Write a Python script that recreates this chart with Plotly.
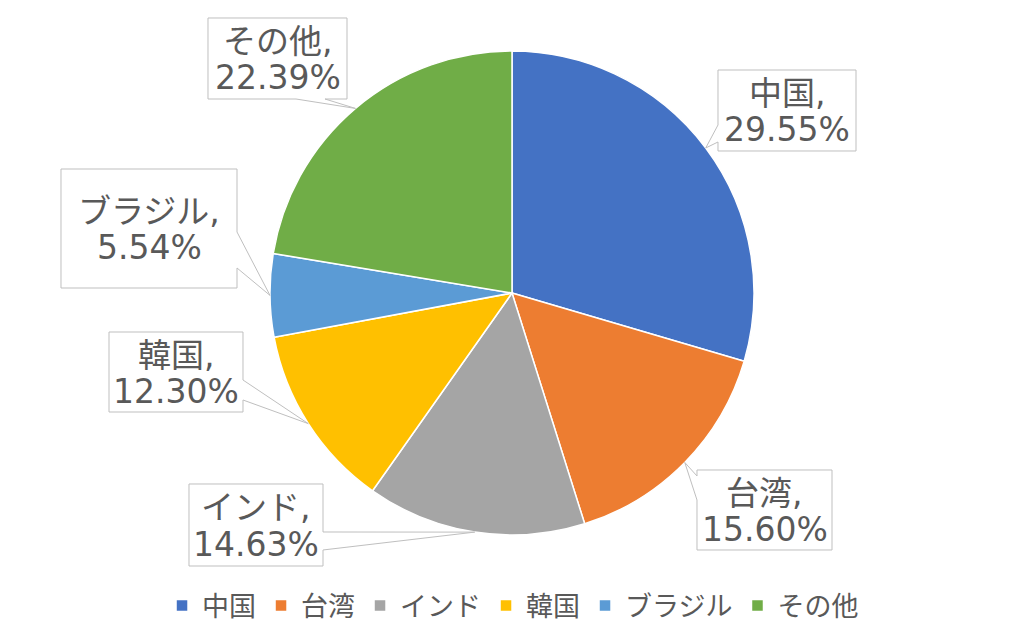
import math
import plotly.graph_objects as go

# ---- data ----
categories = ["中国", "台湾", "インド", "韓国", "ブラジル", "その他"]
shares = [29.55, 15.60, 14.63, 12.30, 5.54, 22.39]
colors = ["#4472C4", "#ED7D31", "#A5A5A5", "#FFC000", "#5B9BD5", "#70AD47"]

# ---- layout constants (pixels) ----
W, H = 1024, 632
CX, CY, R = 512, 293, 242
FONT = "DejaVu Sans, Noto Sans CJK JP, sans-serif"
TXT = "#595959"

# callout boxes: (x0, y0, x1, y1, side, base_a, base_b)
callouts = [
    (718, 70, 856, 151, "left", 125, 142),
    (697, 470, 832, 550, "left", 476, 500),
    (189, 484, 323, 566, "right", 532, 550),
    (109, 332, 243, 412, "right", 380, 400),
    (61, 169, 237, 288, "right", 232, 268),
    (208, 18, 347, 99, "bottom", 296, 325),
]


def px(x):
    return x / W


def py(y):
    return 1 - y / H


fig = go.Figure(
    go.Pie(
        labels=categories,
        values=shares,
        sort=False,
        direction="clockwise",
        rotation=0,
        marker=dict(colors=colors, line=dict(color="white", width=1.5)),
        textinfo="none",
        hoverinfo="label+percent",
        domain=dict(x=[px(CX - R), px(CX + R)], y=[py(CY + R), py(CY - R)]),
    )
)

total = sum(shares)
cum = 0.0
shapes = []
annotations = []
for cat, v, (x0, y0, x1, y1, side, ba, bb) in zip(categories, shares, callouts):
    mid = (cum + v / 2) / total
    cum += v
    ang = 2 * math.pi * mid
    tx = CX + R * math.sin(ang)
    ty = CY - R * math.cos(ang)
    if side == "left":
        pts = [(x0, y0), (x1, y0), (x1, y1), (x0, y1), (x0, bb), (tx, ty), (x0, ba)]
    elif side == "right":
        pts = [(x0, y0), (x1, y0), (x1, ba), (tx, ty), (x1, bb), (x1, y1), (x0, y1)]
    else:
        pts = [(x0, y0), (x1, y0), (x1, y1), (bb, y1), (tx, ty), (ba, y1), (x0, y1)]
    path = "M " + " L ".join(f"{px(a):.5f},{py(b):.5f}" for a, b in pts) + " Z"
    shapes.append(
        dict(
            type="path",
            xref="paper",
            yref="paper",
            path=path,
            fillcolor="white",
            line=dict(color="#BFBFBF", width=1),
            layer="above",
        )
    )
    cxb = (x0 + x1) / 2
    cyb = (y0 + y1) / 2
    for text, dy in ((f"{cat},", -17), (f"{v:.2f}%", 19)):
        annotations.append(
            dict(
                xref="paper",
                yref="paper",
                x=px(cxb),
                y=py(cyb + dy),
                xanchor="center",
                yanchor="middle",
                text=text,
                showarrow=False,
                font=dict(family=FONT, size=33, color=TXT),
            )
        )

fig.update_layout(
    width=W,
    height=H,
    margin=dict(l=0, r=0, t=0, b=0),
    paper_bgcolor="white",
    plot_bgcolor="white",
    shapes=shapes,
    annotations=annotations,
    showlegend=True,
    legend=dict(
        orientation="h",
        x=0.501,
        xanchor="center",
        y=py(606),
        yanchor="middle",
        font=dict(family=FONT, size=27, color=TXT),
        itemwidth=30,
        traceorder="normal",
    ),
)

fig.write_html("out.html")
